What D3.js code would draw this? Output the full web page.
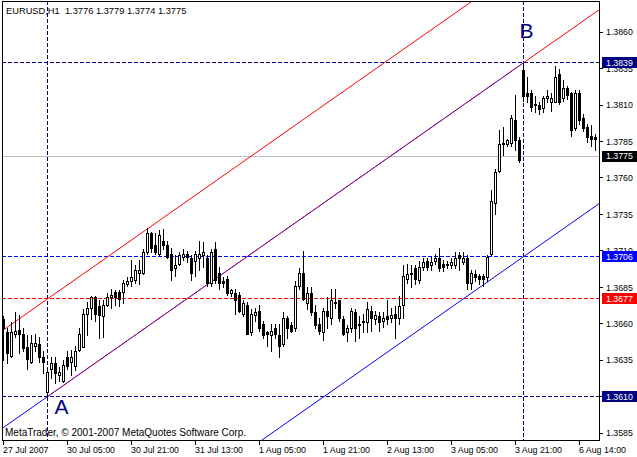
<!DOCTYPE html>
<html><head><meta charset="utf-8">
<script src="https://cdn.jsdelivr.net/npm/d3@7"></script>
<style>html,body{margin:0;padding:0;background:#fff;overflow:hidden}svg{display:block}</style>
</head><body>
<svg id="c" width="637" height="457"></svg>
<script>
const opens=[1.3663,1.3654,1.3638,1.3653,1.3656,1.3653,1.3644,1.3634,1.3645,1.3646,1.3637,1.3613,1.3629,1.3633,1.3625,1.3621,1.3637,1.3634,1.3631,1.3642,1.3644,1.3667,1.3671,1.3678,1.3672,1.3665,1.3673,1.3678,1.3682,1.3682,1.3682,1.3687,1.3689,1.3690,1.3695,1.3695,1.3709,1.3722,1.3714,1.3708,1.3717,1.3714,1.3708,1.3698,1.3701,1.3706,1.3708,1.3705,1.3703,1.3705,1.3707,1.3705,1.3688,1.3711,1.3695,1.3689,1.3691,1.3681,1.3681,1.3680,1.3667,1.3673,1.3654,1.3666,1.3669,1.3660,1.3654,1.3652,1.3657,1.3652,1.3646,1.3664,1.3659,1.3657,1.3686,1.3695,1.3674,1.3681,1.3668,1.3660,1.3654,1.3669,1.3664,1.3674,1.3676,1.3663,1.3654,1.3657,1.3668,1.3659,1.3661,1.3661,1.3669,1.3663,1.3665,1.3662,1.3665,1.3664,1.3667,1.3664,1.3673,1.3691,1.3695,1.3698,1.3690,1.3699,1.3703,1.3700,1.3703,1.3705,1.3701,1.3701,1.3700,1.3700,1.3707,1.3702,1.3705,1.3688,1.3694,1.3693,1.3693,1.3692,1.3708,1.3743,1.3765,1.3783,1.3783,1.3784,1.3800,1.3786,1.3834,1.3818,1.3818,1.3811,1.3810,1.3808,1.3815,1.3812,1.3812,1.3831,1.3815,1.3822,1.3818,1.3794,1.3818,1.3801,1.3795,1.3789,1.3788];
const highs=[1.3665,1.3657,1.3661,1.3668,1.3666,1.3657,1.3652,1.3652,1.3653,1.3651,1.3641,1.3629,1.3637,1.3637,1.3630,1.3635,1.3641,1.3642,1.3645,1.3657,1.3670,1.3675,1.3679,1.3679,1.3676,1.3676,1.3681,1.3684,1.3683,1.3683,1.3690,1.3692,1.3704,1.3700,1.3704,1.3711,1.3726,1.3723,1.3722,1.3724,1.3725,1.3717,1.3712,1.3707,1.3709,1.3711,1.3710,1.3707,1.3710,1.3717,1.3716,1.3707,1.3711,1.3716,1.3699,1.3692,1.3693,1.3684,1.3684,1.3682,1.3676,1.3675,1.3670,1.3671,1.3673,1.3662,1.3655,1.3660,1.3660,1.3660,1.3668,1.3665,1.3661,1.3689,1.3698,1.3710,1.3685,1.3685,1.3673,1.3664,1.3671,1.3678,1.3684,1.3684,1.3676,1.3665,1.3659,1.3671,1.3670,1.3665,1.3667,1.3675,1.3672,1.3669,1.3668,1.3668,1.3676,1.3671,1.3672,1.3679,1.3700,1.3701,1.3700,1.3700,1.3703,1.3705,1.3705,1.3706,1.3708,1.3712,1.3704,1.3703,1.3705,1.3709,1.3709,1.3709,1.3707,1.3697,1.3697,1.3694,1.3694,1.3707,1.3752,1.3766,1.3793,1.3795,1.3787,1.3803,1.3817,1.3788,1.3839,1.3829,1.3820,1.3816,1.3812,1.3816,1.3820,1.3818,1.3837,1.3835,1.3827,1.3823,1.3819,1.3820,1.3820,1.3804,1.3797,1.3796,1.3790];
const lows=[1.3635,1.3633,1.3637,1.3651,1.3640,1.3641,1.3629,1.3633,1.3641,1.3634,1.3626,1.3610,1.3623,1.3619,1.3621,1.3620,1.3629,1.3625,1.3628,1.3641,1.3644,1.3652,1.3663,1.3662,1.3650,1.3651,1.3672,1.3671,1.3673,1.3672,1.3674,1.3686,1.3686,1.3688,1.3687,1.3694,1.3708,1.3709,1.3708,1.3707,1.3711,1.3705,1.3690,1.3693,1.3700,1.3704,1.3702,1.3690,1.3693,1.3697,1.3699,1.3686,1.3686,1.3688,1.3684,1.3685,1.3680,1.3679,1.3667,1.3668,1.3665,1.3653,1.3652,1.3662,1.3655,1.3650,1.3645,1.3641,1.3650,1.3637,1.3645,1.3650,1.3654,1.3655,1.3684,1.3676,1.3670,1.3666,1.3657,1.3653,1.3649,1.3657,1.3660,1.3671,1.3662,1.3652,1.3648,1.3654,1.3648,1.3650,1.3654,1.3654,1.3655,1.3660,1.3655,1.3658,1.3660,1.3661,1.3650,1.3660,1.3664,1.3688,1.3685,1.3687,1.3688,1.3697,1.3697,1.3697,1.3701,1.3696,1.3696,1.3698,1.3698,1.3698,1.3697,1.3701,1.3684,1.3684,1.3689,1.3687,1.3686,1.3689,1.3707,1.3735,1.3764,1.3776,1.3782,1.3782,1.3779,1.3771,1.3813,1.3812,1.3806,1.3805,1.3804,1.3805,1.3812,1.3806,1.3812,1.3811,1.3813,1.3814,1.3789,1.3793,1.3797,1.3792,1.3785,1.3782,1.3779];
const closes=[1.3657,1.3640,1.3654,1.3655,1.3653,1.3643,1.3636,1.3647,1.3647,1.3637,1.3634,1.3627,1.3633,1.3626,1.3627,1.3632,1.3631,1.3637,1.3641,1.3653,1.3667,1.3671,1.3678,1.3667,1.3666,1.3673,1.3678,1.3680,1.3678,1.3677,1.3688,1.3689,1.3692,1.3697,1.3697,1.3709,1.3722,1.3712,1.3709,1.3721,1.3714,1.3706,1.3697,1.3700,1.3707,1.3708,1.3706,1.3695,1.3708,1.3708,1.3709,1.3688,1.3709,1.3690,1.3688,1.3688,1.3681,1.3683,1.3676,1.3669,1.3674,1.3653,1.3667,1.3668,1.3657,1.3652,1.3653,1.3655,1.3653,1.3645,1.3664,1.3657,1.3655,1.3686,1.3695,1.3677,1.3681,1.3668,1.3659,1.3655,1.3669,1.3665,1.3676,1.3675,1.3664,1.3653,1.3657,1.3669,1.3657,1.3660,1.3662,1.3670,1.3664,1.3666,1.3661,1.3664,1.3663,1.3666,1.3664,1.3672,1.3693,1.3694,1.3694,1.3691,1.3699,1.3702,1.3699,1.3702,1.3705,1.3698,1.3699,1.3700,1.3702,1.3705,1.3705,1.3705,1.3688,1.3695,1.3692,1.3691,1.3691,1.3706,1.3744,1.3764,1.3783,1.3784,1.3786,1.3801,1.3786,1.3772,1.3816,1.3816,1.3809,1.3810,1.3807,1.3815,1.3816,1.3815,1.3829,1.3812,1.3822,1.3817,1.3793,1.3818,1.3800,1.3794,1.3788,1.3787,1.3787];

const timeTickIdx=[0,16,32,48,64,80,96,112,128,144];
const timeLabels=["27 Jul 2007","30 Jul 05:00","30 Jul 21:00","31 Jul 13:00","1 Aug 05:00","1 Aug 21:00","2 Aug 13:00","3 Aug 05:00","3 Aug 21:00","6 Aug 14:00"];
const priceTicks=[1.3860,1.3835,1.3810,1.3785,1.3760,1.3735,1.3710,1.3685,1.3660,1.3635,1.3610,1.3585];
const levelPrices=[1.3839,1.3706,1.3677,1.3610];
const currentPrice=1.3775;
const headerText="EURUSD,H1  1.3776 1.3779 1.3774 1.3775";
const pointA=[11,1.3610], pointB=[130,1.3839];
const redParallel=[11,1.3677], blueParallel=[130,1.3706];

const svg=d3.select("#c");
const L=2,R=599,T=1,B=440;
const x=d3.scaleLinear().domain([0,1]).range([3.5,7.5]);
const y=d3.scaleLinear().domain([1.3610,1.3839]).range([396.6,62.8]);
const row=v=>Math.floor(y(v))+0.5;
const FONT="'Liberation Sans', Arial, sans-serif";
const DASH="4,2";

svg.append("defs").append("clipPath").attr("id","clip").append("rect")
  .attr("x",L+1).attr("y",T+1).attr("width",R-L-1).attr("height",B-T-1);
const plot=svg.append("g").attr("clip-path","url(#clip)");

// horizontal levels
const levelColors=["#000080","#0000FF","#FF0000","#000080"];
levelPrices.forEach((p,i)=>{
  plot.append("line").attr("x1",L).attr("x2",R).attr("y1",row(p)).attr("y2",row(p))
    .style("stroke",levelColors[i]).style("stroke-width","1px").style("stroke-dasharray",DASH)
    .attr("shape-rendering","crispEdges");
});
// current price line
plot.append("line").attr("x1",L).attr("x2",R).attr("y1",row(currentPrice)).attr("y2",row(currentPrice))
  .attr("stroke","#C0C0C0").attr("shape-rendering","crispEdges");
// vertical lines
plot.selectAll("line.v").data([pointA[0],pointB[0]]).enter().append("line").attr("class","v")
  .attr("x1",d=>x(d)).attr("x2",d=>x(d)).attr("y1",T).attr("y2",B)
  .attr("stroke","#000080").attr("stroke-dasharray",DASH).attr("shape-rendering","crispEdges");

// channel lines
const slope=(pointB[1]-pointA[1])/(pointB[0]-pointA[0]);
const at=(p0,i)=>p0[1]+slope*(i-p0[0]);
const seg=(p0,i1,i2,color,dash)=>{
  const l=plot.append("line").attr("x1",x(i1)).attr("y1",y(at(p0,i1)))
    .attr("x2",x(i2)).attr("y2",y(at(p0,i2))).attr("stroke",color).attr("stroke-width",1);
  if(dash) l.attr("stroke-dasharray",dash);
};
seg(pointA,-2,pointB[0],"#0000FF");
seg(blueParallel,-2,152,"#0000FF");
seg(redParallel,-2,152,"#FF0000");
seg(pointA,pointA[0],pointB[0],"#FF0000","3,2");
seg(pointA,pointB[0],152,"#FF0000");

// candles
const idx=d3.range(opens.length);
const cg=plot.append("g").attr("shape-rendering","crispEdges");
cg.selectAll("line.w").data(idx).enter().append("line").attr("class","w")
  .attr("x1",i=>x(i)).attr("x2",i=>x(i))
  .attr("y1",i=>Math.round(y(highs[i]))).attr("y2",i=>Math.round(y(lows[i]))+1)
  .attr("stroke","#000");
cg.selectAll("rect.b").data(idx).enter().append("rect").attr("class","b")
  .attr("x",i=>x(i)-1).attr("width",2)
  .attr("y",i=>Math.round(y(Math.max(opens[i],closes[i])))+0.5)
  .attr("height",i=>Math.max(0,Math.round(y(Math.min(opens[i],closes[i])))-Math.round(y(Math.max(opens[i],closes[i])))))
  .attr("fill",i=>closes[i]>=opens[i]?"#fff":"#000").attr("stroke","#000");

// frame
const fg=svg.append("g").attr("stroke","#000").attr("shape-rendering","crispEdges");
fg.append("line").attr("x1",L+0.5).attr("x2",L+0.5).attr("y1",T).attr("y2",B+1);
fg.append("line").attr("x1",L).attr("x2",R+1).attr("y1",T+0.5).attr("y2",T+0.5);
fg.append("line").attr("x1",R+0.5).attr("x2",R+0.5).attr("y1",T).attr("y2",B+1);
fg.append("line").attr("x1",L).attr("x2",R+1).attr("y1",B+0.5).attr("y2",B+0.5);

// right axis ticks & labels
const ra=svg.append("g");
ra.selectAll("line").data(priceTicks).enter().append("line")
  .attr("x1",R).attr("x2",R+4).attr("y1",d=>row(d)).attr("y2",d=>row(d))
  .attr("stroke","#000").attr("shape-rendering","crispEdges");
ra.selectAll("text").data(priceTicks).enter().append("text")
  .attr("x",R+7).attr("y",d=>y(d)+3.3).text(d=>d.toFixed(4))
  .attr("font-family",FONT).attr("font-size","8.8px").attr("fill","#000");

// level boxes
const boxes=levelPrices.map((p,i)=>({p,c:levelColors[i]})).concat([{p:currentPrice,c:"#000"}]);
const bx=svg.selectAll("g.box").data(boxes).enter().append("g").attr("class","box");
bx.append("rect").attr("x",R+3).attr("width",40).attr("y",d=>Math.floor(y(d.p))-5).attr("height",11)
  .attr("fill",d=>d.c);
bx.append("text").attr("x",R+7).attr("y",d=>y(d.p)+3.3).text(d=>d.p.toFixed(4))
  .attr("font-family",FONT).attr("font-size","8.8px").attr("fill","#fff");

// bottom axis
const ba=svg.append("g");
ba.selectAll("line").data(timeTickIdx).enter().append("line")
  .attr("x1",i=>x(i)).attr("x2",i=>x(i)).attr("y1",B).attr("y2",B+5)
  .attr("stroke","#000").attr("shape-rendering","crispEdges");
ba.selectAll("text").data(timeTickIdx).enter().append("text")
  .attr("x",i=>x(i)-0.5).attr("y",453).text((d,k)=>timeLabels[k])
  .attr("font-family",FONT).attr("font-size","8.8px").attr("fill","#000");

// texts
svg.append("text").attr("x",6).attr("y",14).attr("xml:space","preserve").style("white-space","pre")
  .text(headerText).attr("font-family",FONT).attr("font-size","9.3px").attr("fill","#000");
svg.append("text").attr("x",5).attr("y",436).text("MetaTrader, \u00a9 2001-2007 MetaQuotes Software Corp.")
  .attr("font-family",FONT).attr("font-size","10px").attr("fill","#000");
svg.append("text").attr("x",x(pointA[0])+7).attr("y",414).text("A")
  .attr("font-family",FONT).attr("font-size","21px").attr("fill","#000080");
svg.append("text").attr("x",x(pointB[0])-4).attr("y",38).text("B")
  .attr("font-family",FONT).attr("font-size","21px").attr("fill","#000080");
</script>
</body></html>
